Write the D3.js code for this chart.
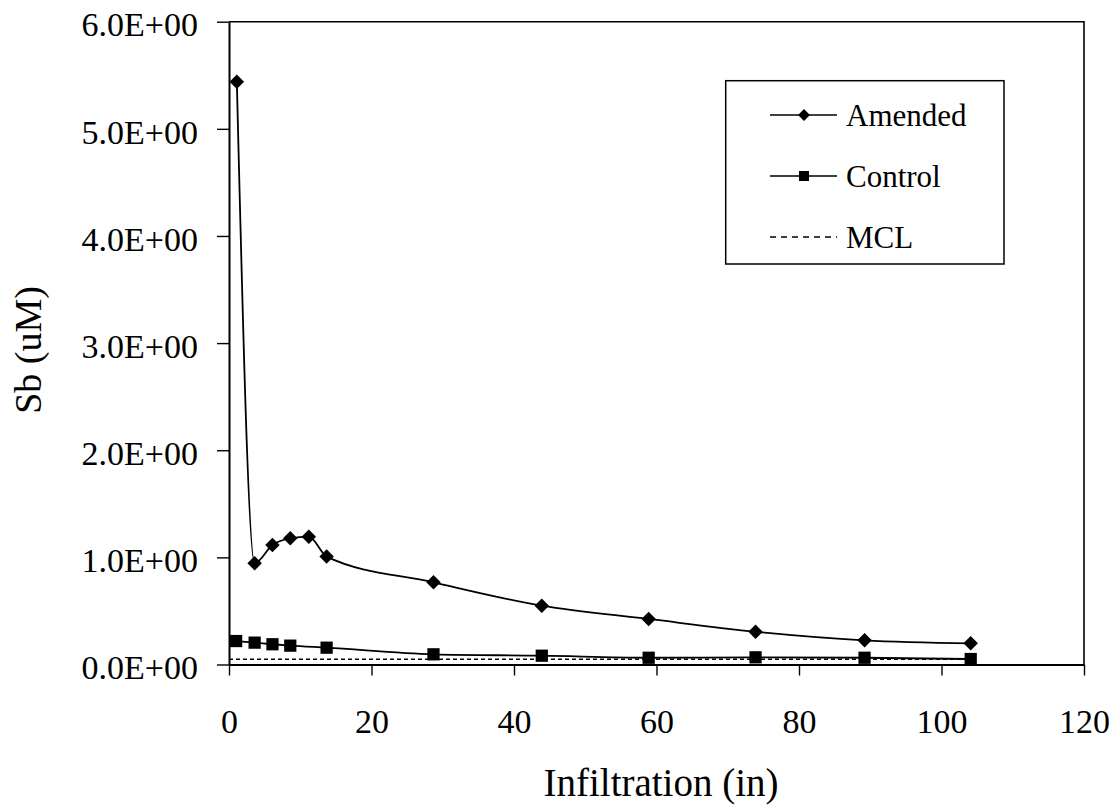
<!DOCTYPE html>
<meta charset="utf-8">
<style>
  body { margin:0; background:#fff; }
  text { font-family:"Liberation Serif","Times New Roman",serif; fill:#000; }
</style>
<svg width="1118" height="806"></svg>
<script src="https://cdnjs.cloudflare.com/ajax/libs/d3/7.8.5/d3.min.js"></script>
<script>

// values
var amendedX = [1.1, 3.6, 6.1, 8.6, 11.2, 13.7, 28.7, 43.9, 58.9, 73.9, 89.2, 104.1];
var amendedY = [5.44, 0.945, 1.116, 1.178, 1.193, 1.007, 0.767, 0.549, 0.425, 0.306, 0.226, 0.198];
var controlX = [1.0, 3.6, 6.1, 8.6, 13.7, 28.7, 43.9, 58.9, 73.9, 89.2, 104.1];
var controlY = [0.219, 0.204, 0.189, 0.176, 0.157, 0.095, 0.082, 0.063, 0.067, 0.063, 0.051];
var mclX = [0, 104.1];
var mclY = [0.05, 0.05];
var xTicks = [0, 20, 40, 60, 80, 100, 120];
var yTicks = [0, 1, 2, 3, 4, 5, 6];
var seriesNames = ["Amended", "Control", "MCL"];

var svg = d3.select("svg"),
    plotLeft = 229, plotRight = 1084, plotTop = 21.7, plotBottom = 664.5;

var x = d3.scaleLinear().domain([0, 120]).range([plotLeft, plotRight]);
var y = d3.scaleLinear().domain([0, 6]).range([plotBottom, plotTop]);

function sci(d) {
  if (d === 0) return "0.0E+00";
  var e = Math.floor(Math.log10(Math.abs(d))),
      m = d / Math.pow(10, e);
  return m.toFixed(1) + "E" + (e < 0 ? "-" : "+") + String(Math.abs(e)).padStart(2, "0");
}

function zip(xs, ys) { return xs.map(function(v, i) { return [v, ys[i]]; }); }

// frame top / right
svg.append("path")
    .attr("d", "M" + plotLeft + "," + plotTop + "H" + plotRight + "V" + plotBottom)
    .attr("fill", "none")
    .attr("stroke", "#000")
    .attr("stroke-width", 1.6);

var xAxis = svg.append("g")
    .attr("transform", "translate(0," + plotBottom + ")")
    .call(d3.axisBottom(x).tickValues(xTicks).tickSize(11).tickSizeOuter(0).tickPadding(33));
xAxis.selectAll("text").style("font-size", "34px");

var yAxis = svg.append("g")
    .attr("transform", "translate(" + plotLeft + ",0)")
    .call(d3.axisLeft(y).tickValues(yTicks).tickSize(12).tickSizeOuter(0).tickPadding(19).tickFormat(sci));
yAxis.selectAll("text").style("font-size", "34px").attr("dy", "0.42em");

svg.selectAll(".domain").attr("stroke-width", 2);
svg.selectAll(".tick line").attr("stroke-width", 1.4);

svg.append("text")
    .attr("x", 661)
    .attr("y", 796)
    .attr("text-anchor", "middle")
    .style("font-size", "39px")
    .text("Infiltration (in)");

svg.append("text")
    .attr("transform", "translate(41,350)rotate(-90)")
    .attr("text-anchor", "middle")
    .style("font-size", "38px")
    .text("Sb (uM)");

var line = d3.line()
    .x(function(d) { return x(d[0]); })
    .y(function(d) { return y(d[1]); })
    .curve(d3.curveMonotoneX);

var amended = zip(amendedX, amendedY),
    control = zip(controlX, controlY),
    mcl = zip(mclX, mclY);

svg.append("path")
    .datum(mcl)
    .attr("d", d3.line().x(function(d) { return x(d[0]); }).y(function(d) { return y(d[1]); }))
    .attr("fill", "none")
    .attr("stroke", "#000")
    .attr("stroke-width", 1.5)
    .attr("stroke-dasharray", "4,3");

[amended, control].forEach(function(s) {
  svg.append("path")
      .datum(s)
      .attr("d", line)
      .attr("fill", "none")
      .attr("stroke", "#000")
      .attr("stroke-width", 1.8);
});

svg.append("g").selectAll("path")
    .data(amended)
    .enter().append("path")
      .attr("transform", function(d) { return "translate(" + x(d[0]) + "," + y(d[1]) + ")rotate(45)"; })
      .attr("d", d3.symbol().type(d3.symbolSquare).size(105))
      .attr("fill", "#000");

svg.append("g").selectAll("path")
    .data(control)
    .enter().append("path")
      .attr("transform", function(d) { return "translate(" + x(d[0]) + "," + y(d[1]) + ")"; })
      .attr("d", d3.symbol().type(d3.symbolSquare).size(150))
      .attr("fill", "#000");

// legend
var legend = svg.append("g");
legend.append("rect")
    .attr("x", 725.7).attr("y", 80.7)
    .attr("width", 278.3).attr("height", 183.3)
    .attr("fill", "#fff")
    .attr("stroke", "#000")
    .attr("stroke-width", 1.5);

var row = legend.selectAll("g.row")
    .data(seriesNames)
    .enter().append("g")
      .attr("class", "row")
      .attr("transform", function(d, i) { return "translate(0," + (115 + i * 61) + ")"; });

row.append("line")
    .attr("x1", 770).attr("x2", 837)
    .attr("stroke", "#000")
    .attr("stroke-width", 1.5)
    .attr("stroke-dasharray", function(d, i) { return i === 2 ? "6,5" : null; });

row.filter(function(d, i) { return i < 2; })
  .append("path")
    .attr("transform", function(d, i) { return "translate(804,0)" + (i === 0 ? "rotate(45)" : ""); })
    .attr("d", function(d, i) { return d3.symbol().type(d3.symbolSquare).size(i === 0 ? 70 : 100)(); })
    .attr("fill", "#000");

row.append("text")
    .attr("x", 846)
    .attr("dy", "0.35em")
    .style("font-size", "31px")
    .text(function(d) { return d; });

</script>
